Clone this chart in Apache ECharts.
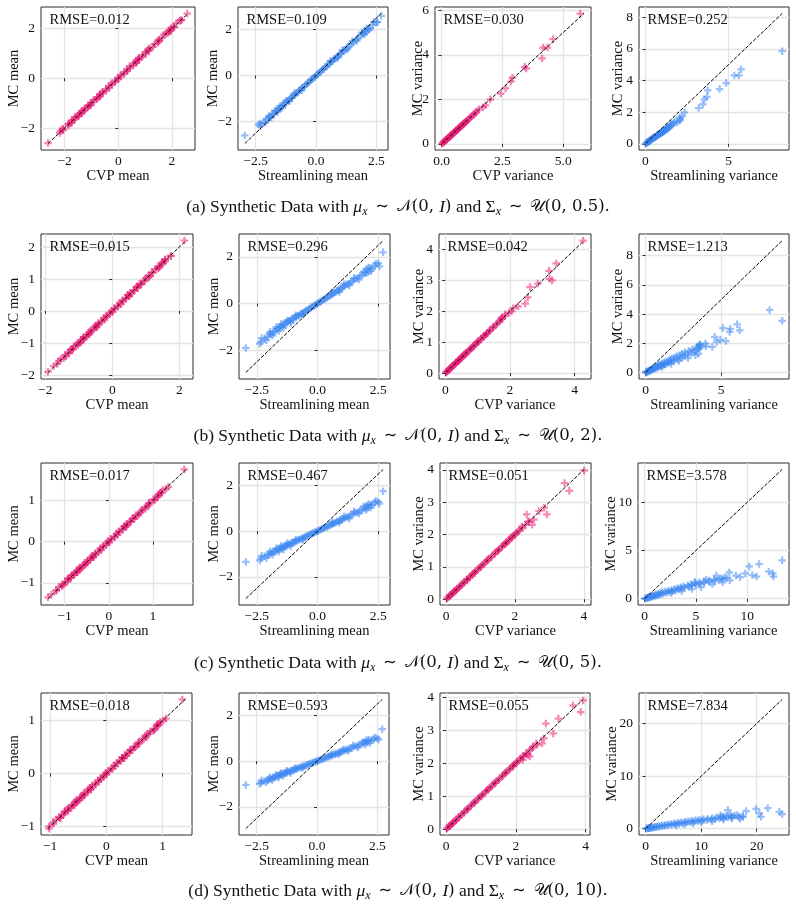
<!DOCTYPE html>
<html><head><meta charset="utf-8">
<script src="https://cdn.jsdelivr.net/npm/echarts@6/dist/echarts.min.js"></script>
<style>html,body{margin:0;padding:0;background:#fff}#c{width:796px;height:908px}</style>
</head><body><div id="c"></div>
<script>
// ---------- DATA ----------
const streamMean = [-2.95,-2.38,-2.32,-2.18,-2.05,-1.98,-1.9,-1.82,-1.75,-1.68,-1.6,-1.55,-1.48,-1.42,-1.36,-1.3,-1.24,-1.18,-1.12,-1.06,-1.0,-0.94,-0.88,-0.82,-0.76,-0.7,-0.64,-0.58,-0.52,-0.46,-0.4,-0.34,-0.28,-0.22,-0.16,-0.1,-0.04,0.02,0.08,0.14,0.2,0.26,0.32,0.38,0.44,0.5,0.56,0.62,0.68,0.74,0.8,0.86,0.92,0.98,1.05,1.12,1.2,1.28,1.36,1.45,1.55,1.65,1.75,1.85,1.95,2.02,2.08,2.15,2.25,2.35,2.5,2.7,
  -2.3,-2.1,-1.95,-1.85,-1.7,-1.6,-1.5,-1.4,-1.25,-1.1,-0.9,-0.6,0.6,0.9,1.1,1.3,1.5,1.7,1.9,2.0,2.1,2.2,2.4,2.55];

const mcMeanA = [-2.6,-2.12,-2.2,-2.02,-1.9,-1.84,-1.8,-1.68,-1.66,-1.57,-1.52,-1.44,-1.41,-1.32,-1.29,-1.21,-1.18,-1.09,-1.07,-0.98,-0.95,-0.87,-0.84,-0.76,-0.73,-0.65,-0.61,-0.54,-0.5,-0.43,-0.38,-0.31,-0.27,-0.2,-0.16,-0.09,-0.04,0.02,0.07,0.14,0.18,0.25,0.29,0.37,0.4,0.48,0.52,0.6,0.63,0.71,0.74,0.82,0.85,0.93,0.97,1.06,1.11,1.21,1.26,1.37,1.43,1.56,1.62,1.75,1.8,1.92,1.9,2.02,2.06,2.2,2.32,2.6,
  -2.08,-2.05,-1.75,-1.82,-1.52,-1.58,-1.33,-1.4,-1.1,-1.11,-0.77,-0.64,0.64,0.77,1.11,1.14,1.49,1.52,1.87,1.8,2.05,1.99,2.34,2.32];
const cvpMeanA = [-2.62,-2.16,-2.18,-2.07,-1.86,-1.86,-1.75,-1.72,-1.64,-1.62,-1.48,-1.46,-1.36,-1.36,-1.27,-1.26,-1.14,-1.11,-1.02,-1.02,-0.93,-0.92,-0.8,-0.78,-0.68,-0.69,-0.59,-0.59,-0.46,-0.45,-0.33,-0.35,-0.25,-0.25,-0.12,-0.11,0.01,-0.02,0.09,0.09,0.22,0.23,0.34,0.33,0.42,0.43,0.56,0.58,0.68,0.67,0.76,0.77,0.89,0.91,1.02,1.02,1.13,1.16,1.3,1.35,1.48,1.52,1.64,1.7,1.84,1.9,1.95,1.98,2.08,2.15,2.33,2.57,
  -2.05,-2.08,-1.73,-1.85,-1.49,-1.6,-1.31,-1.43,-1.07,-1.13,-0.75,-0.67,0.67,0.74,1.14,1.11,1.52,1.49,1.9,1.77,2.08,1.96,2.37,2.29];

const mcMeanB = [-1.9,-1.72,-1.65,-1.5,-1.42,-1.3,-1.33,-1.22,-1.18,-1.1,-1.06,-1.0,-0.98,-0.9,-0.9,-0.82,-0.81,-0.74,-0.73,-0.66,-0.67,-0.6,-0.58,-0.52,-0.51,-0.45,-0.43,-0.38,-0.35,-0.3,-0.27,-0.22,-0.19,-0.14,-0.11,-0.06,-0.03,0.01,0.06,0.09,0.14,0.17,0.22,0.25,0.3,0.33,0.38,0.41,0.46,0.49,0.55,0.57,0.63,0.65,0.72,0.74,0.82,0.85,0.93,0.96,1.05,1.1,1.19,1.22,1.32,1.48,1.35,1.52,1.5,1.62,1.72,2.2,
  -1.48,-1.57,-1.21,-1.37,-1.01,-1.19,-0.88,-1.04,-0.72,-0.83,-0.5,-0.47,0.48,0.5,0.84,0.77,1.1,1.03,1.38,1.3,1.55,1.4,1.72,1.6];
const cvpMeanB = [-1.92,-1.75,-1.64,-1.54,-1.39,-1.32,-1.29,-1.25,-1.17,-1.14,-1.03,-1.02,-0.94,-0.93,-0.89,-0.86,-0.78,-0.76,-0.69,-0.69,-0.66,-0.64,-0.55,-0.54,-0.47,-0.48,-0.42,-0.42,-0.32,-0.32,-0.23,-0.25,-0.18,-0.18,-0.08,-0.08,0.01,-0.02,0.08,0.05,0.17,0.16,0.26,0.22,0.32,0.29,0.41,0.4,0.5,0.46,0.57,0.53,0.66,0.64,0.76,0.71,0.84,0.81,0.96,0.95,1.09,1.07,1.21,1.18,1.35,1.47,1.39,1.49,1.52,1.58,1.74,2.15,
  -1.45,-1.6,-1.18,-1.4,-0.98,-1.22,-0.85,-1.07,-0.69,-0.86,-0.47,-0.5,0.51,0.47,0.87,0.74,1.13,1.0,1.41,1.27,1.58,1.37,1.75,1.57];

const mcMeanC = [-1.35,-1.28,-1.2,-1.1,-1.05,-0.98,-0.97,-0.9,-0.88,-0.82,-0.8,-0.76,-0.74,-0.69,-0.68,-0.63,-0.62,-0.57,-0.56,-0.51,-0.5,-0.46,-0.44,-0.4,-0.38,-0.34,-0.32,-0.28,-0.26,-0.22,-0.2,-0.16,-0.14,-0.1,-0.08,-0.04,-0.02,0.01,0.05,0.07,0.11,0.13,0.17,0.19,0.23,0.25,0.29,0.31,0.35,0.37,0.42,0.43,0.48,0.49,0.55,0.56,0.62,0.64,0.7,0.73,0.8,0.83,0.9,0.94,1.0,1.12,1.02,1.15,1.14,1.25,1.28,1.75,
  -1.08,-1.17,-0.88,-1.03,-0.75,-0.9,-0.65,-0.8,-0.52,-0.65,-0.37,-0.38,0.38,0.37,0.65,0.55,0.86,0.77,1.08,0.93,1.18,1.03,1.33,1.2];
const cvpMeanC = [-1.38,-1.3,-1.19,-1.13,-1.03,-0.99,-0.94,-0.93,-0.87,-0.85,-0.78,-0.77,-0.71,-0.72,-0.67,-0.66,-0.6,-0.58,-0.53,-0.54,-0.49,-0.49,-0.42,-0.41,-0.35,-0.37,-0.31,-0.31,-0.24,-0.23,-0.17,-0.19,-0.13,-0.13,-0.06,-0.05,0.01,-0.02,0.06,0.04,0.14,0.12,0.2,0.17,0.24,0.22,0.32,0.3,0.38,0.35,0.43,0.4,0.5,0.48,0.58,0.54,0.63,0.61,0.72,0.72,0.83,0.81,0.91,0.91,1.03,1.11,1.05,1.13,1.15,1.22,1.3,1.71,
  -1.06,-1.19,-0.86,-1.05,-0.73,-0.92,-0.63,-0.82,-0.5,-0.67,-0.35,-0.4,0.4,0.35,0.67,0.53,0.88,0.75,1.1,0.91,1.2,1.01,1.35,1.18];

const mcMeanD = [-1.04,-1.0,-0.95,-0.87,-0.84,-0.78,-0.77,-0.72,-0.7,-0.66,-0.64,-0.6,-0.59,-0.55,-0.54,-0.5,-0.5,-0.45,-0.45,-0.41,-0.4,-0.37,-0.35,-0.32,-0.3,-0.27,-0.26,-0.22,-0.21,-0.18,-0.16,-0.13,-0.11,-0.08,-0.07,-0.03,-0.02,0.01,0.04,0.05,0.09,0.1,0.14,0.15,0.19,0.2,0.24,0.25,0.29,0.3,0.34,0.35,0.39,0.39,0.44,0.45,0.5,0.51,0.56,0.58,0.64,0.66,0.72,0.75,0.8,0.9,0.82,0.92,0.9,0.98,1.0,1.4,
  -0.84,-0.92,-0.7,-0.82,-0.6,-0.72,-0.52,-0.64,-0.42,-0.52,-0.3,-0.3,0.3,0.3,0.52,0.44,0.68,0.6,0.84,0.72,0.92,0.8,1.04,0.94];
const cvpMeanD = [-1.02,-1.02,-0.94,-0.9,-0.82,-0.79,-0.75,-0.74,-0.69,-0.69,-0.62,-0.61,-0.57,-0.57,-0.53,-0.53,-0.48,-0.46,-0.43,-0.43,-0.39,-0.4,-0.33,-0.33,-0.28,-0.29,-0.25,-0.25,-0.19,-0.19,-0.14,-0.15,-0.1,-0.1,-0.05,-0.04,0.0,-0.01,0.05,0.03,0.11,0.09,0.16,0.13,0.2,0.18,0.26,0.24,0.31,0.28,0.35,0.33,0.41,0.38,0.46,0.43,0.51,0.49,0.58,0.57,0.66,0.64,0.73,0.73,0.82,0.89,0.85,0.9,0.91,0.96,1.01,1.35,
  -0.82,-0.94,-0.68,-0.84,-0.58,-0.74,-0.5,-0.66,-0.4,-0.54,-0.28,-0.32,0.32,0.28,0.54,0.42,0.7,0.58,0.86,0.7,0.94,0.78,1.06,0.92];

const mcVarA = [0.02,0.05,0.08,0.1,0.13,0.15,0.18,0.2,0.23,0.25,0.28,0.3,0.33,0.35,0.38,0.4,0.43,0.45,0.48,0.5,0.53,0.55,0.58,0.6,0.63,0.65,0.68,0.7,0.73,0.75,0.78,0.8,0.83,0.85,0.88,0.9,0.93,0.95,0.98,1.0,1.05,1.1,1.15,1.2,1.25,1.3,1.35,1.4,1.45,1.55,5.85,4.7,4.32,4.32,3.84,3.46,3.38,2.97,2.8,2.49,2.26,1.99,1.73,1.65];
const cvpVarA = [0.02,0.06,0.08,0.11,0.12,0.16,0.18,0.21,0.22,0.26,0.28,0.31,0.32,0.36,0.38,0.41,0.42,0.46,0.48,0.51,0.52,0.56,0.58,0.61,0.62,0.66,0.68,0.71,0.72,0.76,0.78,0.81,0.82,0.86,0.88,0.91,0.92,0.96,0.98,1.01,1.04,1.11,1.14,1.21,1.24,1.31,1.34,1.41,1.44,1.52,5.7,4.58,4.17,4.35,4.13,3.41,3.48,2.91,2.85,2.63,2.43,2.0,1.81,1.7];
const streamVarA = [0.03,0.05,0.1,0.14,0.15,0.2,0.22,0.28,0.27,0.33,0.36,0.4,0.42,0.46,0.5,0.55,0.54,0.6,0.65,0.68,0.72,0.7,0.8,0.82,0.86,0.9,0.95,0.92,1.0,1.05,1.1,1.02,1.15,1.2,1.12,1.25,1.3,1.22,1.35,1.4,1.3,1.5,1.45,1.6,1.55,1.7,1.9,1.75,2.05,2.1,8.23,5.75,5.35,5.62,4.86,4.46,3.75,3.7,3.55,3.45,3.2,2.35,2.2,2.05];

const mcVarB = [0.02,0.04,0.06,0.08,0.1,0.12,0.15,0.17,0.2,0.22,0.25,0.27,0.3,0.32,0.35,0.37,0.4,0.42,0.45,0.47,0.5,0.52,0.55,0.58,0.6,0.63,0.66,0.7,0.73,0.76,0.8,0.84,0.88,0.92,0.96,1.0,1.04,1.08,1.12,1.16,1.2,1.25,1.3,1.35,1.4,1.45,1.5,1.55,1.6,1.65,1.7,1.75,1.85,1.95,1.3,1.2,1.0,0.8,0.6,0.4,4.29,3.55,3.31,3.05,3.0,2.9,2.79,2.45,2.25,2.16,2.1,2.0,1.9,1.76,1.8];
const cvpVarB = [0.02,0.05,0.06,0.09,0.1,0.13,0.14,0.18,0.2,0.23,0.24,0.28,0.3,0.33,0.34,0.38,0.4,0.43,0.44,0.48,0.5,0.53,0.54,0.59,0.6,0.64,0.65,0.71,0.72,0.77,0.8,0.85,0.87,0.93,0.95,1.01,1.03,1.09,1.11,1.17,1.19,1.26,1.29,1.36,1.39,1.46,1.49,1.56,1.59,1.66,1.69,1.76,1.84,1.97,1.31,1.21,0.99,0.81,0.59,0.41,4.26,3.43,3.21,3.22,3.3,2.86,2.62,2.55,2.47,2.25,2.1,2.05,1.85,1.72,1.75];
const streamVarB = [0.03,0.1,0.08,0.18,0.15,0.28,0.22,0.38,0.32,0.5,0.42,0.6,0.5,0.72,0.6,0.8,0.68,0.95,0.78,1.05,0.85,1.2,0.95,1.3,1.05,1.45,1.15,1.55,1.3,1.7,1.45,1.9,1.6,2.1,1.75,2.3,1.9,2.45,2.05,2.6,2.25,2.8,2.4,3.0,2.6,3.2,2.85,3.35,3.1,3.55,3.4,3.65,3.5,3.6,3.5,3.3,2.8,2.2,1.7,1.1,8.2,9.03,6.06,5.12,5.6,6.22,5.56,4.57,4.94,5.3,4.7,3.95,3.6,4.41,4.0];

const mcVarC = [0.02,0.05,0.08,0.1,0.13,0.15,0.18,0.2,0.23,0.25,0.28,0.3,0.33,0.36,0.4,0.43,0.47,0.5,0.54,0.58,0.62,0.66,0.7,0.74,0.78,0.82,0.86,0.9,0.95,1.0,1.05,1.1,1.15,1.2,1.25,1.3,1.35,1.4,1.45,1.5,1.55,1.6,1.65,1.7,1.75,1.8,1.85,1.9,1.95,2.0,2.05,2.1,2.15,2.2,1.2,1.5,1.7,1.9,1.0,0.8,0.6,1.75,2.0,2.4,3.98,3.59,3.35,2.83,2.72,2.62,2.62,2.46,2.3,2.4,2.3,2.25];
const cvpVarC = [0.02,0.05,0.09,0.1,0.12,0.16,0.18,0.21,0.22,0.26,0.28,0.31,0.32,0.37,0.4,0.44,0.46,0.51,0.53,0.59,0.61,0.67,0.69,0.75,0.77,0.83,0.85,0.91,0.94,1.01,1.04,1.11,1.14,1.21,1.24,1.31,1.34,1.41,1.44,1.51,1.54,1.61,1.64,1.71,1.74,1.81,1.84,1.91,1.94,2.01,2.04,2.11,2.14,2.22,1.19,1.49,1.69,1.89,1.0,0.8,0.61,1.76,1.99,2.41,4.01,3.44,3.58,2.85,2.7,2.93,2.34,2.55,2.5,2.38,2.3,2.2];
const streamVarC = [0.05,0.15,0.3,0.2,0.45,0.35,0.6,0.5,0.8,0.65,1.0,0.8,1.2,0.95,1.4,1.1,1.6,1.3,1.8,1.5,2.1,1.7,2.4,2.0,2.7,2.3,3.0,2.6,3.3,2.9,3.6,3.2,3.9,3.5,4.3,3.8,4.6,4.2,5.0,4.5,5.4,4.9,5.8,5.3,6.3,5.8,6.8,6.3,7.2,6.8,7.6,7.4,8.0,7.8,5.5,6.6,7.6,8.3,4.6,3.6,2.6,4.9,6.0,7.0,13.4,11.15,10.2,12.1,8.25,9.8,12.5,10.5,12.55,8.9,10.9,9.3];

const mcVarD = [0.02,0.05,0.08,0.1,0.13,0.15,0.18,0.2,0.24,0.27,0.3,0.34,0.38,0.42,0.46,0.5,0.55,0.6,0.65,0.7,0.75,0.8,0.85,0.9,0.95,1.0,1.05,1.1,1.15,1.2,1.25,1.3,1.35,1.4,1.45,1.5,1.55,1.6,1.65,1.7,1.75,1.8,1.85,1.9,1.95,2.0,2.05,2.1,2.15,2.2,2.3,2.4,2.5,1.2,1.4,1.7,2.0,2.3,1.0,0.8,0.6,2.6,2.2,1.9,2.45,3.9,3.75,3.55,3.35,3.2,2.9,2.75,2.6,2.55,2.25,2.2,2.1];
const cvpVarD = [0.02,0.05,0.09,0.1,0.12,0.16,0.18,0.21,0.23,0.28,0.3,0.35,0.37,0.43,0.45,0.51,0.54,0.61,0.64,0.71,0.74,0.81,0.84,0.91,0.94,1.01,1.04,1.11,1.14,1.21,1.24,1.31,1.34,1.41,1.44,1.51,1.54,1.61,1.64,1.71,1.74,1.81,1.84,1.91,1.94,2.01,2.04,2.11,2.14,2.21,2.29,2.41,2.49,1.19,1.39,1.69,1.99,2.31,0.99,0.79,0.6,2.59,2.2,1.9,2.46,3.93,3.64,3.86,3.22,2.86,3.07,2.8,2.75,2.6,2.35,2.4,2.2];
const streamVarD = [0.1,0.3,0.6,0.4,0.9,0.7,1.2,0.9,1.6,1.3,2.0,1.6,2.5,2.0,3.0,2.4,3.5,2.9,4.1,3.4,4.7,3.9,5.3,4.5,6.0,5.1,6.6,5.7,7.3,6.3,8.0,7.0,8.7,7.6,9.4,8.3,10.2,9.0,11.0,9.7,11.8,10.4,12.5,11.2,13.3,12.0,14.0,12.8,14.8,13.6,15.5,14.5,16.0,10.0,12.0,14.0,15.5,14.0,8.5,7.0,5.5,15.2,16.8,17.0,17.5,22.0,19.9,14.8,18.1,24.1,20.5,24.6,16.5,13.5,20.8,17.5,15.5];

const rmseA = ["0.012","0.109","0.030","0.252"];
const rmseB = ["0.015","0.296","0.042","1.213"];
const rmseC = ["0.017","0.467","0.051","3.578"];
const rmseD = ["0.018","0.593","0.055","7.834"];

const xTicksA = [["−2","0","2"],["−2.5","0.0","2.5"],["0.0","2.5","5.0"],["0","5"]];
const yTicksA = [["−2","0","2"],["−2","0","2"],["0","2","4","6"],["0","2","4","6","8"]];
const xTicksB = [["−2","0","2"],["−2.5","0.0","2.5"],["0","2","4"],["0","5"]];
const yTicksB = [["−2","−1","0","1","2"],["−2","0","2"],["0","1","2","3","4"],["0","2","4","6","8"]];
const xTicksC = [["−1","0","1"],["−2.5","0.0","2.5"],["0","2","4"],["0","5","10"]];
const yTicksC = [["−1","0","1"],["−2","0","2"],["0","1","2","3","4"],["0","5","10"]];
const xTicksD = [["−1","0","1"],["−2.5","0.0","2.5"],["0","2","4"],["0","10","20"]];
const yTicksD = [["−1","0","1"],["−2","0","2"],["0","1","2","3","4"],["0","10","20"]];

const xNames = ["CVP mean","Streamlining mean","CVP variance","Streamlining variance"];
const yNames = ["MC mean","MC mean","MC variance","MC variance"];
const captionLetters = ["a","b","c","d"];
const sigmaUpper = ["0.5","2","5","10"];

// ---------- LAYOUT ----------
const rowTop = [7, 234, 463, 693];
const rowH = [143, 145, 142, 142];
const colLR = [
  [[41,195],[238,388],[435,591],[639,789]],
  [[41,193],[239,390],[439,591],[639,789]],
  [[41,193],[239,390],[440,591],[638,789]],
  [[41,192],[239,389],[440,590],[639,789]]
];
const yNameGaps = [[19.5,17.5,9.5,13.5],[19.5,17.5,12.5,13.5],[19.5,17.5,13.5,19.5],[19.5,17.5,13.5,19.5]];
const captionY = [207, 436, 663, 891];

const PINK = '#ec1a74', BLUE = '#3c86f2';
const SERIF = '"Liberation Serif","Times New Roman",serif';
const PLUS = 'path://M3.5,0H6.5V3.5H10V6.5H6.5V10H3.5V6.5H0V3.5H3.5Z';

const rows = [
  {mc:mcMeanA, cvp:cvpMeanA, mv:mcVarA, cv:cvpVarA, sv:streamVarA, rmse:rmseA, xt:xTicksA, yt:yTicksA},
  {mc:mcMeanB, cvp:cvpMeanB, mv:mcVarB, cv:cvpVarB, sv:streamVarB, rmse:rmseB, xt:xTicksB, yt:yTicksB},
  {mc:mcMeanC, cvp:cvpMeanC, mv:mcVarC, cv:cvpVarC, sv:streamVarC, rmse:rmseC, xt:xTicksC, yt:yTicksC},
  {mc:mcMeanD, cvp:cvpMeanD, mv:mcVarD, cv:cvpVarD, sv:streamVarD, rmse:rmseD, xt:xTicksD, yt:yTicksD}
];

const grids = [], xAxes = [], yAxes = [], series = [], graphics = [];
const pv = s => parseFloat(s.replace('\u2212','-'));
function zip(a, b){ const n = Math.min(a.length, b.length); const o=[]; for(let i=0;i<n;i++) o.push([a[i], b[i]]); return o; }

function addPanel(r, c, pts, color, rmse, xt, yt) {
  const idx = grids.length;
  const [l, rr] = colLR[r][c];
  grids.push({left:l, top:rowTop[r], width:rr-l, height:rowH[r], show:true,
    borderColor:'#2a2a2a', borderWidth:1, backgroundColor:'rgba(0,0,0,0)', containLabel:false});
  let lo = Infinity, hi = -Infinity;
  pts.forEach(p => { lo = Math.min(lo, p[0], p[1]); hi = Math.max(hi, p[0], p[1]); });
  const m = 0.05 * (hi - lo);
  const xv = xt.map(pv), yv = yt.map(pv);
  const fmt = (vals, labs) => v => { for (let i=0;i<vals.length;i++) if (Math.abs(v-vals[i])<1e-6) return labs[i]; return ''; };
  const common = {
    type:'value', gridIndex:idx, min:lo-m, max:hi+m, nameLocation:'middle', nameMoveOverlap:false,
    nameTextStyle:{fontFamily:SERIF, fontSize:14.5, color:'#111'},
    axisLine:{show:false},
    splitLine:{show:true, lineStyle:{color:'#e4e4e4', width:1.3}}
  };
  xAxes.push(Object.assign({}, common, {
    name:xNames[c], nameGap:18.5,
    axisTick:{show:true, customValues:xv, length:3, lineStyle:{color:'#2a2a2a', width:1}},
    axisLabel:{customValues:xv, formatter:fmt(xv, xt), margin:4, fontFamily:SERIF, fontSize:13.5, color:'#111'}
  }));
  yAxes.push(Object.assign({}, common, {
    name:yNames[c], nameGap:yNameGaps[r][c], nameRotate:90,
    axisTick:{show:true, customValues:yv, length:3, lineStyle:{color:'#2a2a2a', width:1}},
    axisLabel:{customValues:yv, formatter:fmt(yv, yt), margin:6, fontFamily:SERIF, fontSize:13.5, color:'#111'}
  }));
  series.push({type:'scatter', xAxisIndex:idx, yAxisIndex:idx, data:pts, symbol:PLUS, symbolSize:7.5,
    itemStyle:{color:color, opacity:0.52}, silent:true, z:2});
  series.push({type:'line', xAxisIndex:idx, yAxisIndex:idx, data:[[lo,lo],[hi,hi]], showSymbol:false,
    lineStyle:{color:'#000', width:1, type:[3.7,1.6]}, silent:true, z:3});
  graphics.push({type:'text', x:l+8.5, y:rowTop[r]+13, z:10,
    style:{text:'RMSE='+rmse, font:'14.5px '+SERIF, fill:'#111', verticalAlign:'middle', align:'left'}});
}

rows.forEach((d, r) => {
  addPanel(r, 0, zip(d.cvp, d.mc), PINK, d.rmse[0], d.xt[0], d.yt[0]);
  addPanel(r, 1, zip(streamMean, d.mc), BLUE, d.rmse[1], d.xt[1], d.yt[1]);
  addPanel(r, 2, zip(d.cv, d.mv), PINK, d.rmse[2], d.xt[2], d.yt[2]);
  addPanel(r, 3, zip(d.sv, d.mv), BLUE, d.rmse[3], d.xt[3], d.yt[3]);
  const txt = '{t|(' + captionLetters[r] + ') Synthetic Data with }{i|μ}{s|x}{o|∼}{c|𝒩}{m|(0, }{i|I}{m|)}{t| and }{t|Σ}{s|x}{o|∼}{c|𝒰}{m|(0, ' + sigmaUpper[r] + ').}';
  graphics.push({type:'text', x:398, y:captionY[r], z:10, style:{
    text:txt, align:'center', verticalAlign:'middle',
    rich:{
      t:{fontFamily:SERIF, fontSize:17.5, lineHeight:22, fill:'#111'},
      i:{fontFamily:SERIF, fontSize:17.5, fontStyle:'italic', lineHeight:22, fill:'#111'},
      o:{fontFamily:'"DejaVu Sans",sans-serif', fontSize:16, lineHeight:22, padding:[0,8,0,8], fill:'#111'},
      c:{fontFamily:'"DejaVu Serif",serif', fontSize:16, lineHeight:22, fill:'#111'},
      m:{fontFamily:'"DejaVu Serif",serif', fontSize:16.5, lineHeight:22, fill:'#111'},
      s:{fontFamily:SERIF, fontSize:12, fontStyle:'italic', lineHeight:11, verticalAlign:'bottom', fill:'#111'}
    }}});
});

const chart = echarts.init(document.getElementById('c'), null, {renderer:'canvas'});
chart.setOption({animation:false, backgroundColor:'#fff', grid:grids, xAxis:xAxes, yAxis:yAxes, series:series, graphic:graphics});
</script></body></html>
